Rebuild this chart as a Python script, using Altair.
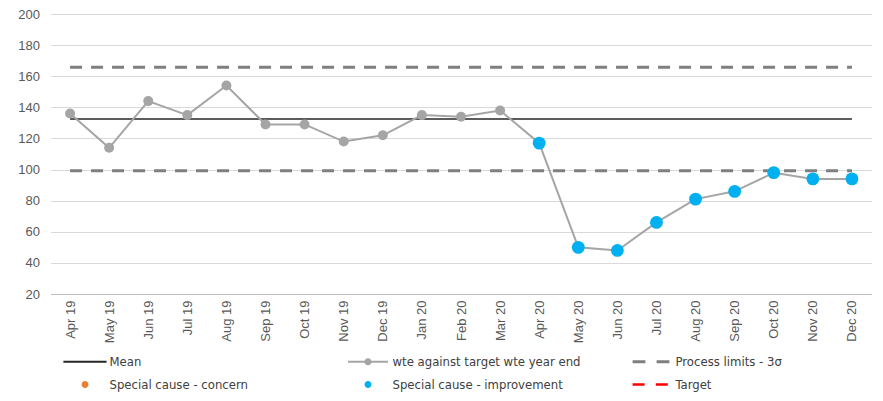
import altair as alt
import pandas as pd

months = ["Apr 19", "May 19", "Jun 19", "Jul 19", "Aug 19", "Sep 19", "Oct 19",
          "Nov 19", "Dec 19", "Jan 20", "Feb 20", "Mar 20", "Apr 20", "May 20",
          "Jun 20", "Jul 20", "Aug 20", "Sep 20", "Oct 20", "Nov 20", "Dec 20"]
values = [136, 114, 144, 135, 154, 129, 129, 118, 122, 135, 134, 138, 117,
          50, 48, 66, 81, 86, 98, 94, 94]
status = ["common"] * 12 + ["improvement"] * 9
mean_value = 132.5
upper_limit = 165.7
lower_limit = 99.3
y_ticks = [20, 40, 60, 80, 100, 120, 140, 160, 180, 200]

legend_names = ["Mean", "wte against target wte year end", "Process limits - 3σ",
                "Special cause - concern", "Special cause  - improvement", "Target"]
legend_colors = ["#262626", "#a5a5a5", "#7f7f7f", "#ed7d31", "#00b0f0", "#ff0000"]

line_path = "M-5.4,-0.22H5.4V0.22H-5.4Z"
dot_line_path = ("M-5,-0.22H5V0.22H-5Z "
                 "M-0.9,0A0.9,0.9 0 1,1 0.9,0A0.9,0.9 0 1,1 -0.9,0Z")
dash_path = "M-4.6,-0.38H-1.4V0.38H-4.6Z M1.4,-0.38H4.6V0.38H1.4Z"
dash_thin_path = "M-4.6,-0.3H-1.6V0.3H-4.6Z M1.2,-0.3H4.2V0.3H1.2Z"
circle_path = "M-0.85,0A0.85,0.85 0 1,1 0.85,0A0.85,0.85 0 1,1 -0.85,0Z"
legend_shapes = [line_path, dot_line_path, dash_path, circle_path, circle_path, dash_thin_path]

df = pd.DataFrame({
    "month": months,
    "value": values,
    "status": status,
    "mean": [mean_value] * len(months),
    "ucl": [upper_limit] * len(months),
    "lcl": [lower_limit] * len(months),
})
legend_df = pd.DataFrame({"series": legend_names})

x_enc = alt.X("month:N", sort=months, title=None,
              scale=alt.Scale(type="point", padding=0.5),
              axis=alt.Axis(labelAngle=-90, labelFontSize=13, labelColor="#595959",
                            labelFont="Liberation Sans", ticks=False, labelPadding=6,
                            domain=True, domainColor="#bfbfbf", grid=False))
y_scale = alt.Scale(domain=[20, 200], nice=False, zero=False)
y_axis = alt.Axis(values=y_ticks, tickCount=10, labelFontSize=13, labelColor="#595959",
                  labelFont="Liberation Sans", ticks=False, domain=False,
                  gridColor="#d9d9d9", labelPadding=11, labelOverlap=False)


def y_enc(field):
    return alt.Y(field, type="quantitative", scale=y_scale, axis=y_axis, title=None)


base = alt.Chart(df)

ucl = base.mark_line(color="#7f7f7f", strokeWidth=3, strokeDash=[12, 9]).encode(
    x=x_enc, y=y_enc("ucl"))
lcl = base.mark_line(color="#7f7f7f", strokeWidth=3, strokeDash=[12, 9]).encode(
    x=x_enc, y=y_enc("lcl"))
mean = base.mark_line(color="#262626", strokeWidth=1.6).encode(
    x=x_enc, y=y_enc("mean"))
line = base.mark_line(color="#a5a5a5", strokeWidth=2).encode(
    x=x_enc, y=y_enc("value"))
pts_common = base.transform_filter(alt.datum.status == "common").mark_circle(
    color="#a5a5a5", size=100, opacity=1).encode(
    x=x_enc, y=y_enc("value"))
pts_improve = base.transform_filter(alt.datum.status == "improvement").mark_circle(
    color="#00b0f0", size=165, opacity=1).encode(
    x=x_enc, y=y_enc("value"))

legend_font = "Liberation Sans Narrow, DejaVu Sans Condensed, Liberation Sans, sans-serif"

legend_layer = alt.Chart(legend_df).mark_point(filled=True, clip=True, size=64, opacity=1).encode(
    x=alt.value(-200), y=alt.value(-200),
    color=alt.Color("series:N", sort=legend_names,
                    scale=alt.Scale(domain=legend_names, range=legend_colors),
                    legend=alt.Legend(title=None, orient="none", direction="horizontal",
                                      columns=3, legendX=28, legendY=341,
                                      labelFont=legend_font, labelFontSize=13,
                                      labelColor="#404040", labelOffset=18,
                                      symbolSize=64, symbolStrokeWidth=0,
                                      columnPadding=49, rowPadding=9, gridAlign="all",
                                      labelLimit=400, padding=0)),
    shape=alt.Shape("series:N", sort=legend_names,
                    scale=alt.Scale(domain=legend_names, range=legend_shapes)),
)

chart = alt.layer(ucl, lcl, mean, line, pts_common, pts_improve, legend_layer).properties(
    width=821, height=280,
    autosize=alt.AutoSizeParams(type="none"),
    padding={"left": 42.5, "top": 6, "right": 3, "bottom": 99},
    background="white",
).configure_view(stroke=None)

chart.save("out.html", embed_options={"renderer": "svg", "actions": False})
